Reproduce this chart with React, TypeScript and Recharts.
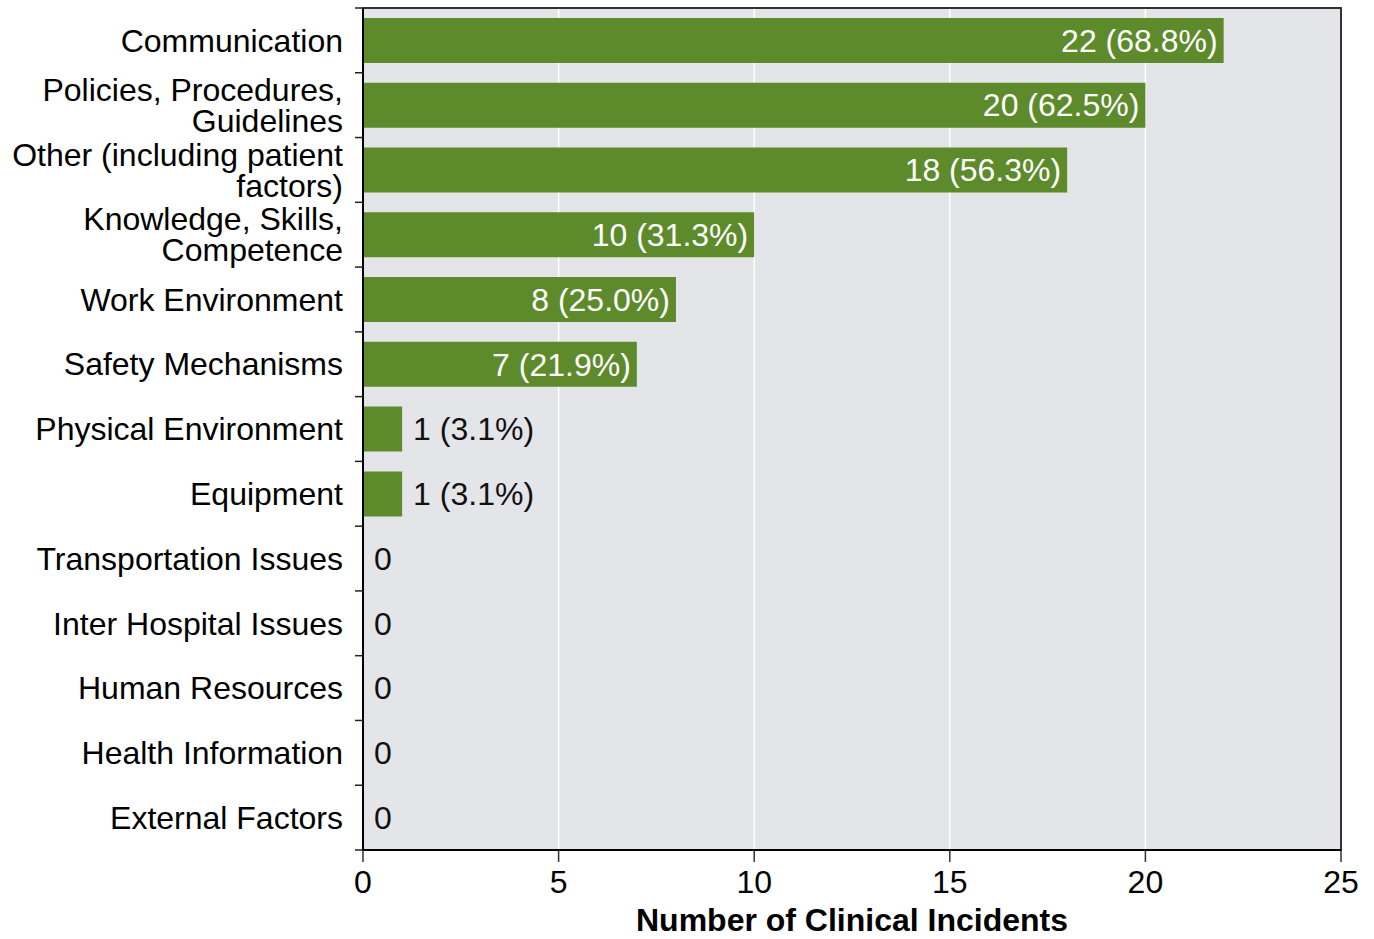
import React from 'react';
import { BarChart, Bar, XAxis, YAxis, CartesianGrid, LabelList, ReferenceArea, Label } from 'recharts';

const categories = [
  'Communication',
  'Policies, Procedures,\nGuidelines',
  'Other (including patient\nfactors)',
  'Knowledge, Skills,\nCompetence',
  'Work Environment',
  'Safety Mechanisms',
  'Physical Environment',
  'Equipment',
  'Transportation Issues',
  'Inter Hospital Issues',
  'Human Resources',
  'Health Information',
  'External Factors',
];
const counts = [22, 20, 18, 10, 8, 7, 1, 1, 0, 0, 0, 0, 0];
const percents: (number | null)[] = [68.8, 62.5, 56.3, 31.3, 25.0, 21.9, 3.1, 3.1, null, null, null, null, null];
const xTicks = [0, 5, 10, 15, 20, 25];
const xTitle = 'Number of Clinical Incidents';

const data = categories.map((name, i) => ({ name, count: counts[i], pct: percents[i] }));

const FONT = '"Liberation Sans", Arial, Helvetica, sans-serif';
const FS = 32;
const W = 1374;
const H = 939;
const PLOT_TOP = 8;
const PLOT_BOTTOM = 850;
const PLOT_LEFT = 363;
const BAND = (PLOT_BOTTOM - PLOT_TOP) / categories.length;

const YTick = (props: any) => {
  const { y, payload, index } = props;
  const lines = String(payload.value).split('\n');
  const lh = 31;
  const start = y - ((lines.length - 1) * lh) / 2;
  return (
    <g>
      <line x1={355} x2={PLOT_LEFT} y1={y - BAND / 2} y2={y - BAND / 2} stroke="#222" strokeWidth={1.5} />
      {index === categories.length - 1 && (
        <line x1={355} x2={PLOT_LEFT} y1={y + BAND / 2} y2={y + BAND / 2} stroke="#222" strokeWidth={1.5} />
      )}
      <text x={343} y={start} textAnchor="end" fontSize={FS} fontFamily={FONT} fill="#000">
        {lines.map((l, i) => (
          <tspan key={i} x={343} dy={i === 0 ? '0.35em' : lh}>
            {l}
          </tspan>
        ))}
      </text>
    </g>
  );
};

const ValueLabel = (props: any) => {
  const { x, y, width, height, index } = props;
  const pct = percents[index];
  const v = counts[index];
  const txt = pct != null ? `${v} (${pct.toFixed(1)}%)` : `${v}`;
  const cy = y + height / 2;
  const inside = v >= 5;
  const end = v === 0 ? x : x + width;
  return (
    <text
      x={inside ? end - 6 : end + 11}
      y={cy}
      dy="0.35em"
      textAnchor={inside ? 'end' : 'start'}
      fontSize={FS}
      fontFamily={FONT}
      fill={inside ? '#fff' : '#111'}
    >
      {txt}
    </text>
  );
};

const TitleLabel = (props: any) => {
  const vb = props.viewBox || {};
  const cx = (vb.x ?? PLOT_LEFT) + (vb.width ?? 978) / 2;
  return (
    <text x={cx} y={931} textAnchor="middle" fontSize={FS} fontWeight="bold" fontFamily={FONT} fill="#000">
      {xTitle}
    </text>
  );
};

export default function App() {
  return (
    <div style={{ width: W, height: H, background: '#fff' }}>
      <style>{`body{margin:0;}`}</style>
      <BarChart
        width={W}
        height={H}
        data={data}
        layout="vertical"
        margin={{ top: PLOT_TOP, right: W - 1341, bottom: 0, left: 0 }}
        barSize={45}
      >
        <CartesianGrid horizontal={false} stroke="#ffffff" strokeWidth={1.5} fill="#e4e5e8" fillOpacity={1} />
        <ReferenceArea x1={0} x2={25} fill="none" stroke="#333" strokeWidth={2} />
        <XAxis
          type="number"
          domain={[0, 25]}
          ticks={xTicks}
          height={H - PLOT_BOTTOM}
          axisLine={{ stroke: '#000', strokeWidth: 2 }}
          tickLine={{ stroke: '#333', strokeWidth: 1.5 }}
          tickSize={12}
          tickMargin={8}
          tick={{ fontSize: FS, fontFamily: FONT, fill: '#000' }}
          interval={0}
        >
          <Label content={<TitleLabel />} />
        </XAxis>
        <YAxis
          type="category"
          dataKey="name"
          width={PLOT_LEFT}
          axisLine={{ stroke: '#000', strokeWidth: 2 }}
          tickLine={false}
          tick={<YTick />}
          interval={0}
        />
        <Bar dataKey="count" fill="#5d8a2a" minPointSize={0.01} isAnimationActive={false}>
          <LabelList dataKey="count" content={<ValueLabel />} />
        </Bar>
      </BarChart>
    </div>
  );
}
